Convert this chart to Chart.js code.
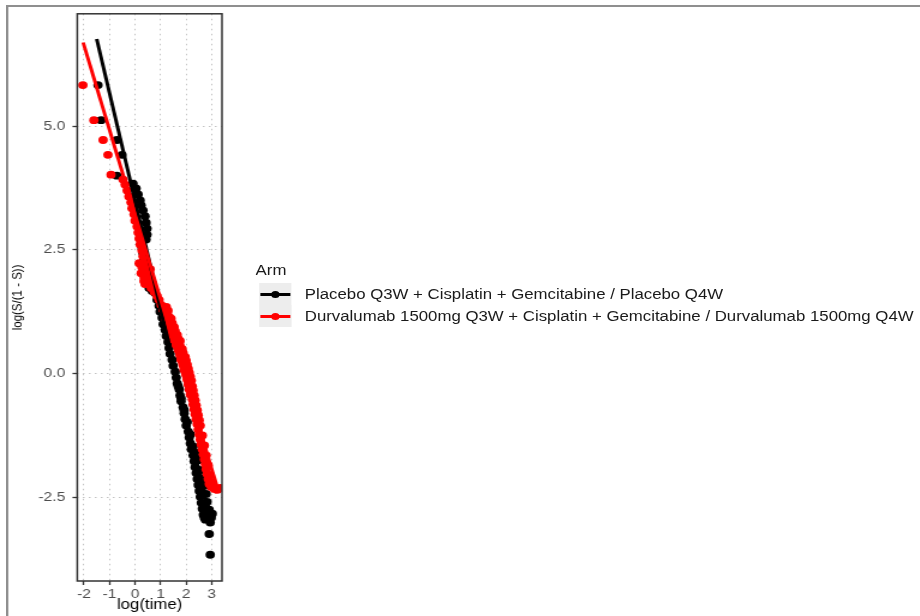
<!DOCTYPE html>
<html lang="en">
<head>
<meta charset="UTF-8">
<title>log-log plot</title>
<style>
  html, body { margin: 0; padding: 0; background: #fff; overflow: hidden; }
  body { width: 920px; height: 616px; position: relative; font-family: "Liberation Sans", Arial, sans-serif; }
  /* the reference is stretched sideways, so the whole stage is drawn narrow and scaled */
  #stage { position: absolute; left: 0; top: 0; width: 767px; height: 616px; transform: scaleX(1.2); transform-origin: 0 0; }
  #frame { position: absolute; left: 5px; top: 5px; width: 800px; height: 700px; border-top: 2px solid #8f8f8f; border-left: 2px solid #8f8f8f; }
  #chart { position: absolute; left: 0; top: 0; }
  #legend { position: absolute; left: 213px; top: 258px; color: #1a1a1a; font-size: 14px; }
  #legend .ltitle { height: 25px; line-height: 24px; }
  #legend .item { position: relative; height: 22px; }
  #legend .key { position: absolute; left: 3px; top: 0; width: 27px; height: 22px; background: #ededed; }
  #legend .key i { position: absolute; left: 1px; right: 1px; top: 9.5px; height: 3px; }
  #legend .key b { position: absolute; left: 10px; top: 7.5px; width: 7px; height: 7px; border-radius: 50%; }
  #legend .lab { position: absolute; left: 41px; top: 0; line-height: 22px; white-space: nowrap; }
</style>
</head>
<body>
<div id="stage">
  <div id="frame"></div>
  <canvas id="chart" width="767" height="616"></canvas>
  <div id="legend"></div>
</div>
<script src="https://cdn.jsdelivr.net/npm/chart.js@4.4.1/dist/chart.umd.min.js"></script>
<script>
// Placebo arm: log(time) and log(S/(1-S))
const placeboLogTime = [-1.45, -1.33, -0.71, -0.51, -0.71, -0.08, 0.04, 0.12, 0.20, 0.24, 0.31, 0.39, 0.43, 0.47, 0.47, 0.43,
  0.27, 0.31, 0.35, 0.39, 0.43, 0.47, 0.47, 0.55, 0.67, 0.78, 0.86, 0.94, 0.98, 1.06, 1.10, 1.18, 1.22, 1.29, 1.33, 1.37,
  1.45, 1.49, 1.57, 1.61, 1.65, 1.73, 1.76, 1.80, 1.88, 1.92, 1.96, 2.00, 2.08, 2.12, 2.16, 2.20, 2.27, 2.31, 2.35, 2.39,
  2.43, 2.47, 2.51, 2.55, 2.59, 2.63, 2.67, 2.75,
  2.35, 2.47, 2.55, 2.63, 2.71, 2.78, 2.82, 2.90, 2.98, 2.94,
  1.69, 1.80, 1.92, 2.04, 2.16, 2.27, 2.39, 2.51, 2.59, 2.67, 2.75, 2.82, 2.90, 3.02, 2.71,
  2.90, 2.94];
const placeboLogOdds = [5.83, 5.12, 4.72, 4.42, 4.00, 3.84, 3.74, 3.62, 3.50, 3.40, 3.30, 3.18, 3.05, 2.93, 2.81, 2.71,
  2.55, 2.43, 2.31, 2.19, 2.07, 1.95, 1.83, 1.73, 1.67, 1.63, 1.49, 1.37, 1.25, 1.13, 1.00, 0.88, 0.76, 0.64, 0.52, 0.40,
  0.28, 0.16, 0.04, -0.08, -0.20, -0.32, -0.44, -0.56, -0.68, -0.80, -0.92, -1.05, -1.17, -1.29, -1.41, -1.53, -1.65, -1.77, -1.89, -2.01,
  -2.13, -2.25, -2.37, -2.49, -2.61, -2.73, -2.85, -2.95,
  -1.59, -1.75, -1.95, -2.11, -2.27, -2.43, -2.59, -2.75, -2.91, -3.01,
  -0.26, -0.50, -0.74, -0.98, -1.23, -1.47, -1.71, -1.95, -2.19, -2.43, -2.67, -2.83, -2.93, -2.83, -2.91,
  -3.24, -3.66];

// Durvalumab arm
const durvaLogTime = [-2.04, -1.61, -1.25, -1.06, -0.94, -0.47, -0.39, -0.31, -0.24, -0.16, -0.12, -0.04, 0.00, 0.08, 0.12, 0.16,
  0.20, 0.27, 0.31, 0.39, 0.27, 0.39, 0.51, 0.59, 0.51, 0.63, 0.75, 0.86, 0.94, 1.02, 1.10, 1.18, 1.22, 1.29, 1.37, 1.45,
  1.53, 1.61, 1.69, 1.76, 1.80, 1.88, 1.92, 2.00, 2.04, 2.08, 2.12, 2.16, 2.24, 2.27, 2.31, 2.35, 2.39, 2.43, 2.47, 2.51,
  2.55, 2.59, 2.63, 2.67, 2.71, 2.75, 2.78, 2.82, 2.86, 2.90, 2.98, 3.10, 3.22, 3.33,
  1.29, 1.41, 1.53, 1.65, 1.76, 1.84, 1.96, 2.04, 2.12, 2.20, 2.27, 2.35, 2.43, 2.51,
  1.22, 1.33, 1.45, 1.57, 1.69, 1.76, 1.88, 2.00, 2.08, 2.16, 2.24, 2.31, 2.39, 2.47, 2.55, 2.63, 2.71, 2.78, 2.86, 2.94, 2.98,
  0.16, 0.24, 0.35, 0.43, 0.59, 0.67, 0.35, 0.39];
const durvaLogOdds = [5.83, 5.12, 4.72, 4.42, 4.02, 3.92, 3.82, 3.70, 3.58, 3.46, 3.34, 3.22, 3.09, 2.97, 2.85, 2.73,
  2.61, 2.49, 2.37, 2.25, 2.15, 2.07, 1.99, 1.91, 1.81, 1.73, 1.65, 1.57, 1.49, 1.39, 1.29, 1.19, 1.09, 0.98, 0.88, 0.78,
  0.68, 0.58, 0.48, 0.38, 0.28, 0.18, 0.08, -0.02, -0.12, -0.22, -0.32, -0.42, -0.52, -0.62, -0.72, -0.82, -0.92, -1.02, -1.13, -1.23,
  -1.33, -1.43, -1.53, -1.63, -1.73, -1.83, -1.93, -2.03, -2.13, -2.23, -2.29, -2.33, -2.35, -2.31,
  1.27, 1.11, 0.94, 0.78, 0.66, 0.50, 0.34, 0.18, 0.02, -0.14, -0.34, -0.54, -0.74, -0.94,
  1.35, 1.15, 1.02, 0.86, 0.70, 0.56, 0.42, 0.26, 0.10, -0.06, -0.26, -0.44, -0.64, -0.84, -1.05, -1.25, -1.45, -1.65, -1.85, -2.05, -2.19,
  2.23, 2.03, 1.87, 2.23, 2.11, 1.83, 1.95, 1.81];

// fitted straight lines (end points)
const placeboFitLogTime = [-1.50, 2.98];
const placeboFitLogOdds = [6.76, -3.01];
const durvaFitLogTime = [-2.03, 3.22];
const durvaFitLogOdds = [6.69, -2.31];

const armNames = ['Placebo Q3W + Cisplatin + Gemcitabine / Placebo Q4W',
  'Durvalumab 1500mg Q3W + Cisplatin + Gemcitabine / Durvalumab 1500mg Q4W'];
const armColors = ['#000000', '#ff0000'];
const legendTitle = 'Arm';

const xTickValues = [-2, -1, 0, 1, 2, 3];
const xTickLabels = ['-2', '-1', '0', '1', '2', '3'];
const yTickValues = [-2.5, 0, 2.5, 5];
const yTickLabels = ['-2.5', '0.0', '2.5', '5.0'];

const pts = (xs, ys) => xs.map((x, i) => ({x: x, y: ys[i]}));

const panelBorder = {
  id: 'panelBorder',
  afterDatasetsDraw(chart) {
    const {ctx, chartArea: a} = chart;
    ctx.save();
    ctx.strokeStyle = '#333333';
    ctx.lineWidth = 1.5;
    ctx.strokeRect(a.left, a.top, a.right - a.left, a.bottom - a.top);
    ctx.restore();
  }
};

const tickFont = {family: '"Liberation Sans", Arial, sans-serif', size: 13};

new Chart('chart', {
  type: 'scatter',
  data: {
    datasets: [
      {data: pts(durvaFitLogTime, durvaFitLogOdds), showLine: true, borderColor: armColors[1], borderWidth: 3, pointRadius: 0, order: 0},
      {data: pts(placeboFitLogTime, placeboFitLogOdds), showLine: true, borderColor: armColors[0], borderWidth: 3, pointRadius: 0, order: 1},
      {data: pts(durvaLogTime, durvaLogOdds), backgroundColor: armColors[1], borderWidth: 0, pointRadius: 3.9, order: 2},
      {data: pts(placeboLogTime, placeboLogOdds), backgroundColor: armColors[0], borderWidth: 0, pointRadius: 3.9, order: 3}
    ]
  },
  options: {
    responsive: false,
    animation: false,
    events: [],
    layout: {padding: {left: 0, top: 11, right: 582, bottom: 0}},
    plugins: {legend: {display: false}, tooltip: {enabled: false}},
    scales: {
      x: {
        type: 'linear',
        min: -2.26, max: 3.40,
        afterBuildTicks: s => { s.ticks = xTickValues.map(v => ({value: v})); },
        afterFit: s => { s.height = 35; },
        ticks: {
          callback: (v) => xTickLabels[xTickValues.indexOf(v)],
          color: '#4d4d4d', font: tickFont, padding: 2, maxRotation: 0, autoSkip: false
        },
        grid: {color: '#c4c4c4', lineWidth: 1, tickColor: '#333333', tickLength: 4, tickWidth: 1.3, tickBorderDash: []},
        border: {display: false, dash: [1.5, 3.5]},
        title: {display: true, text: 'log(time)', color: '#000', font: {family: '"Liberation Sans", Arial, sans-serif', size: 14}, padding: {top: 0, bottom: 2}}
      },
      y: {
        type: 'linear',
        min: -4.19, max: 7.27,
        afterBuildTicks: s => { s.ticks = yTickValues.map(v => ({value: v})); },
        afterFit: s => { s.width = 64.4; },
        ticks: {
          callback: (v) => yTickLabels[yTickValues.indexOf(v)],
          color: '#4d4d4d', font: tickFont, padding: 6, autoSkip: false
        },
        grid: {color: '#c4c4c4', lineWidth: 1, tickColor: '#333333', tickLength: 4, tickWidth: 1.3, tickBorderDash: []},
        border: {display: false, dash: [1.5, 3.5]},
        title: {display: true, text: 'log(S/(1 - S))', color: '#000', font: {family: '"Liberation Sans", Arial, sans-serif', size: 11.5}, padding: {top: 8, bottom: 0}}
      }
    }
  },
  plugins: [panelBorder]
});

// legend, drawn as page text next to the panel
document.getElementById('legend').innerHTML =
  '<div class="ltitle">' + legendTitle + '</div>' +
  armNames.map((name, i) =>
    '<div class="item"><span class="key"><i style="background:' + armColors[i] + '"></i>' +
    '<b style="background:' + armColors[i] + '"></b></span><span class="lab">' + name + '</span></div>'
  ).join('');
</script>
</body>
</html>
